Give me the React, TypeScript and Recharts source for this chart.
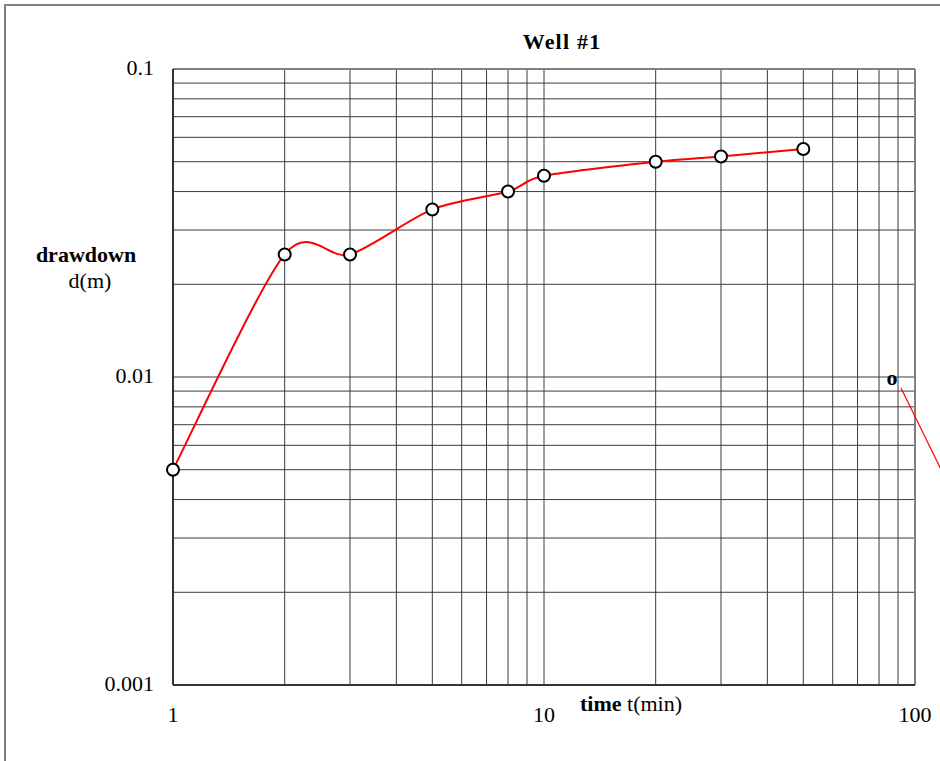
import React from 'react';
import { LineChart, Line, XAxis, YAxis, ReferenceLine } from 'recharts';

const timeMin = [1, 2, 3, 5, 8, 10, 20, 30, 50];
const drawdownM = [0.005, 0.025, 0.025, 0.035, 0.04, 0.045, 0.05, 0.052, 0.055];
const xTicks = [1, 10, 100];
const yTicks = [0.001, 0.01, 0.1];
const xTickLabels = ['1', '10', '100'];
const yTickLabels = ['0.001', '0.01', '0.1'];
const xGrid = [2, 3, 4, 5, 6, 7, 8, 9, 10, 20, 30, 40, 50, 60, 70, 80, 90];
const yGrid = [
  0.002, 0.003, 0.004, 0.005, 0.006, 0.007, 0.008, 0.009, 0.01,
  0.02, 0.03, 0.04, 0.05, 0.06, 0.07, 0.08, 0.09,
];

const data = timeMin.map((t, i) => ({ t, d: drawdownM[i] }));

const FONT = '"Liberation Serif", "Times New Roman", serif';

// Excel-like smoothed line (Catmull-Rom as cubic Bezier)
function smoothCurve(context: any) {
  let xs: number[] = [];
  let ys: number[] = [];
  return {
    areaStart() {},
    areaEnd() {},
    lineStart() {
      xs = [];
      ys = [];
    },
    lineEnd() {
      const n = xs.length;
      if (n === 0) return;
      context.moveTo(xs[0], ys[0]);
      for (let i = 0; i < n - 1; i++) {
        const p = Math.max(0, i - 1);
        const q = Math.min(n - 1, i + 2);
        const k = 7;
        const c1x = xs[i] + (xs[i + 1] - xs[p]) / k;
        const c1y = ys[i] + (ys[i + 1] - ys[p]) / k;
        const c2x = xs[i + 1] - (xs[q] - xs[i]) / k;
        const c2y = ys[i + 1] - (ys[q] - ys[i]) / k;
        context.bezierCurveTo(c1x, c1y, c2x, c2y, xs[i + 1], ys[i + 1]);
      }
    },
    point(x: number, y: number) {
      xs.push(+x);
      ys.push(+y);
    },
  };
}

const YTick = (props: any) => {
  const { x, y, payload } = props;
  const idx = yTicks.indexOf(payload.value);
  return (
    <text x={x - 19} y={y + 6} textAnchor="end" fontFamily={FONT} fontSize={22} fill="#000">
      {idx >= 0 ? yTickLabels[idx] : payload.value}
    </text>
  );
};

const XTick = (props: any) => {
  const { x, y, payload } = props;
  const idx = xTicks.indexOf(payload.value);
  return (
    <text x={x} y={y + 37} textAnchor="middle" fontFamily={FONT} fontSize={22} fill="#000">
      {idx >= 0 ? xTickLabels[idx] : payload.value}
    </text>
  );
};

const Dot = (props: any) => {
  const { cx, cy, index } = props;
  return <circle key={index} cx={cx} cy={cy} r={6} fill="#fff" stroke="#000" strokeWidth={2} />;
};

export default function App() {
  return (
    <div style={{ position: 'absolute', left: 0, top: 0, width: 940, height: 761, overflow: 'hidden', background: '#fff' }}>
      <div
        style={{
          position: 'absolute',
          left: 4,
          top: 4,
          width: 1000,
          height: 900,
          border: '2px solid #808080',
          boxSizing: 'border-box',
        }}
      />
      <div style={{ position: 'absolute', left: 0, top: 0 }}>
        <LineChart
          width={940}
          height={761}
          data={data}
          margin={{ top: 69, right: 25, bottom: 36, left: 113 }}
        >
          <XAxis
            dataKey="t"
            type="number"
            scale="log"
            domain={[1, 100]}
            ticks={xTicks}
            interval={0}
            height={40}
            axisLine={{ stroke: '#333', strokeWidth: 2 }}
            tickLine={false}
            tickSize={0}
            tickMargin={0}
            tick={<XTick />}
          />
          <YAxis
            dataKey="d"
            type="number"
            scale="log"
            domain={[0.001, 0.1]}
            ticks={yTicks}
            interval={0}
            width={60}
            axisLine={{ stroke: '#333', strokeWidth: 2 }}
            tickLine={false}
            tickSize={0}
            tickMargin={0}
            tick={<YTick />}
          />
          {xGrid.map((v) => (
            <ReferenceLine key={'vx' + v} x={v} stroke="#3a3a3a" strokeWidth={1} ifOverflow="visible" />
          ))}
          {yGrid.map((v) => (
            <ReferenceLine key={'hy' + v} y={v} stroke="#3a3a3a" strokeWidth={1} ifOverflow="visible" />
          ))}
          <ReferenceLine y={0.1} stroke="#808080" strokeWidth={2} ifOverflow="visible" />
          <ReferenceLine x={100} stroke="#808080" strokeWidth={2} ifOverflow="visible" />
          <Line
            dataKey="d"
            type={smoothCurve as any}
            stroke="#ff0000"
            strokeWidth={2}
            dot={<Dot />}
            activeDot={false}
            isAnimationActive={false}
          />
        </LineChart>
      </div>
      <svg
        width={940}
        height={761}
        style={{ position: 'absolute', left: 0, top: 0, pointerEvents: 'none' }}
      >
        <text x={562} y={49} textAnchor="middle" fontFamily={FONT} fontSize={22} fontWeight="bold" letterSpacing={1.2} fill="#000">
          Well #1
        </text>
        <text x={86} y={262} textAnchor="middle" fontFamily={FONT} fontSize={22} fontWeight="bold" fill="#000">
          drawdown
        </text>
        <text x={90} y={288} textAnchor="middle" fontFamily={FONT} fontSize={22} fill="#000">
          d(m)
        </text>
        <text x={580} y={711} fontFamily={FONT} fontSize={22} fill="#000">
          <tspan fontWeight="bold">time</tspan>
          <tspan> t(min)</tspan>
        </text>
        <text x={892} y={385} textAnchor="middle" fontFamily={FONT} fontSize={22} fontWeight="bold" fill="#000">
          o
        </text>
        <line x1={901} y1={388} x2={960} y2={508} stroke="#ff0000" strokeWidth={1.2} />
      </svg>
    </div>
  );
}
